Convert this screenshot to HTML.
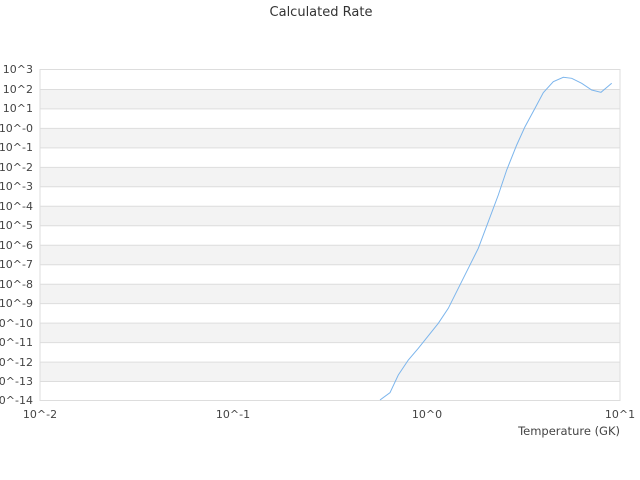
<!DOCTYPE html>
<html><head><style>body{margin:0;background:#fff}svg{display:block}text{font-family:"DejaVu Sans","Liberation Sans",sans-serif;fill:#444;font-size:11px}</style></head><body>
<svg width="640" height="480" xmlns="http://www.w3.org/2000/svg">
<text x="321" y="16" text-anchor="middle" style="font-size:13px;fill:#333">Calculated Rate</text>
<rect x="40" y="89.47" width="580" height="19.47" fill="#f3f3f3"/>
<rect x="40" y="128.41" width="580" height="19.47" fill="#f3f3f3"/>
<rect x="40" y="167.35" width="580" height="19.47" fill="#f3f3f3"/>
<rect x="40" y="206.29" width="580" height="19.47" fill="#f3f3f3"/>
<rect x="40" y="245.24" width="580" height="19.47" fill="#f3f3f3"/>
<rect x="40" y="284.18" width="580" height="19.47" fill="#f3f3f3"/>
<rect x="40" y="323.12" width="580" height="19.47" fill="#f3f3f3"/>
<rect x="40" y="362.06" width="580" height="19.47" fill="#f3f3f3"/>
<g stroke="#ddd" stroke-width="1">
<path d="M40 89.5H620M40 108.9H620M40 128.4H620M40 147.9H620M40 167.4H620M40 186.8H620M40 206.3H620M40 225.8H620M40 245.2H620M40 264.7H620M40 284.2H620M40 303.6H620M40 323.1H620M40 342.6H620M40 362.1H620M40 381.5H620"/>
<rect x="40" y="69.5" width="580" height="331" fill="none"/>
</g>
<g text-anchor="end">
<text x="33" y="73">10^3</text><text x="33" y="93">10^2</text><text x="33" y="112">10^1</text><text x="33" y="132">10^-0</text><text x="33" y="151">10^-1</text><text x="33" y="171">10^-2</text><text x="33" y="190">10^-3</text><text x="33" y="210">10^-4</text><text x="33" y="229">10^-5</text><text x="33" y="249">10^-6</text><text x="33" y="268">10^-7</text><text x="33" y="288">10^-8</text><text x="33" y="307">10^-9</text><text x="33" y="327">10^-10</text><text x="33" y="346">10^-11</text><text x="33" y="366">10^-12</text><text x="33" y="385">10^-13</text><text x="33" y="404">10^-14</text>
</g>
<g text-anchor="middle">
<text x="40" y="418">10^-2</text><text x="233" y="418">10^-1</text><text x="427" y="418">10^0</text><text x="620" y="418">10^1</text>
</g>
<text x="620" y="435" text-anchor="end" style="font-size:11.5px">Temperature (GK)</text>
<polyline fill="none" stroke="#7cb5ec" stroke-width="1" points="380,400 390,392.7 398.3,375 408.3,360 418.3,348.3 438.3,323.3 448.3,308.3 468.3,268.3 478.3,248.3 488.3,221.7 498.3,195 506.7,170 516.7,145 525,126.7 535,108.3 543.3,92.7 553.3,81.7 563.3,77.3 571.7,78.3 581.7,83.3 591.7,90 601,92.3 611.7,83.3"/>
</svg>
</body></html>
